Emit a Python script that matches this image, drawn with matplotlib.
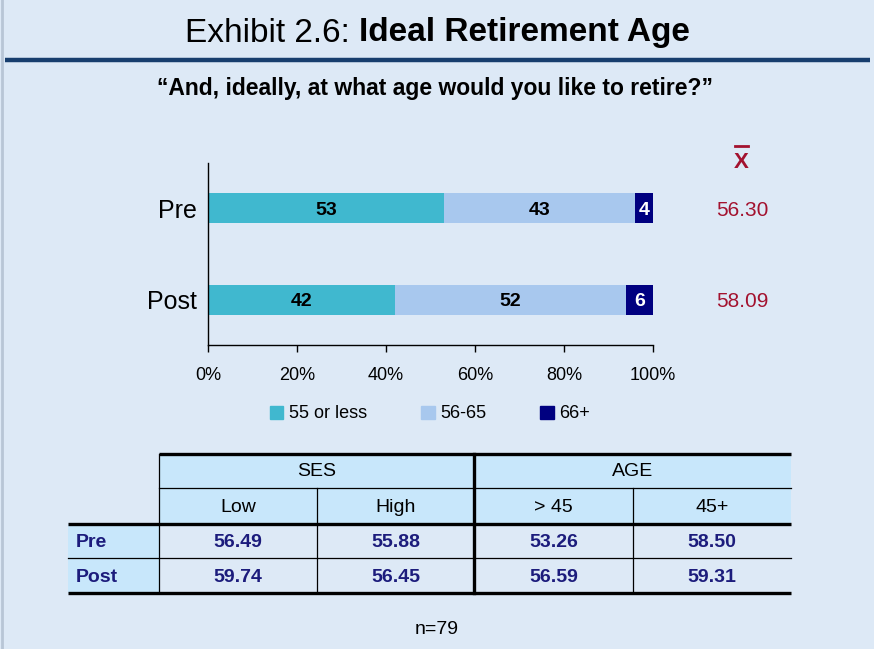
import matplotlib.pyplot as plt
from matplotlib.patches import Rectangle

groups = ['Pre', 'Post']
cats = ['55 or less', '56-65', '66+']
pct_55_less = [53, 42]
pct_56_65 = [43, 52]
pct_66_plus = [4, 6]
means = ['56.30', '58.09']

tbl_groups = ['SES', 'AGE']
tbl_cols = ['Low', 'High', '> 45', '45+']
tbl_rows = ['Pre', 'Post']
tbl_vals = [[56.49, 55.88, 53.26, 58.50],
            [59.74, 56.45, 56.59, 59.31]]
n_total = 79

FONT = ['Liberation Sans Narrow', 'Liberation Sans', 'DejaVu Sans']
BG = '#dde9f6'
colors = ['#40b8cf', '#a8c8ee', '#000080']
W, H = 874, 649

fig = plt.figure(figsize=(W / 100, H / 100), dpi=100, facecolor=BG)

# overlay axes in pixel coordinates for title, table, notes
ov = fig.add_axes([0, 0, 1, 1])
ov.set_xlim(0, W)
ov.set_ylim(H, 0)
ov.axis('off')
ov.set_facecolor('none')

ov.axvline(2, color='#b8c6d6', lw=2)

# title in two weights, centred as a whole
r = fig.canvas.get_renderer()
a = ov.text(0, 33, 'Exhibit 2.6: ', ha='left', va='center', fontsize=24, family=FONT)
b = ov.text(0, 33, 'Ideal Retirement Age', ha='left', va='center', fontsize=24,
            family=FONT, weight='bold')
wa = a.get_window_extent(r).width
wb = b.get_window_extent(r).width
x0 = 437 - (wa + wb) / 2
a.set_x(x0)
b.set_x(x0 + wa)

ov.plot([5, 870], [59.5, 59.5], color='#173e6e', lw=3.2, solid_capstyle='butt')
ov.text(435, 88, '\u201cAnd, ideally, at what age would you like to retire?\u201d',
        ha='center', va='center', fontsize=16.5, weight='bold', family=FONT)

# main stacked bar chart
ax = fig.add_axes([208 / W, 1 - 345 / H, 445 / W, 182 / H])
ax.set_facecolor('none')
ys = [1, 0]
left = [0, 0]
for vals, c in zip([pct_55_less, pct_56_65, pct_66_plus], colors):
    ax.barh(ys, vals, left=left, height=0.33, color=c)
    for y, v, l in zip(ys, vals, left):
        tc = 'white' if c == colors[2] else 'black'
        ax.text(l + v / 2, y, str(v), ha='center', va='center_baseline', fontsize=14,
                weight='bold', color=tc, family=FONT)
    left = [l + v for l, v in zip(left, vals)]

ax.set_xlim(0, 100)
ax.set_ylim(-0.49, 1.49)
ax.set_yticks(ys)
ax.set_yticklabels(groups, fontsize=18, family=FONT)
ax.tick_params(axis='y', length=0, pad=8)
ax.set_xticks(range(0, 101, 20))
ax.set_xticklabels([f'{v}%' for v in range(0, 101, 20)], fontsize=13, family=FONT)
ax.tick_params(axis='x', length=5, width=1, pad=11)
for s in ['top', 'right']:
    ax.spines[s].set_visible(False)
for s in ['left', 'bottom']:
    ax.spines[s].set_linewidth(1)

# mean column
for y, m in zip(ys, means):
    ax.text(120, y, m, ha='center', va='center_baseline', fontsize=15,
            color='#a3122f', family=FONT, clip_on=False)
ov.text(741, 162, 'X', ha='center', va='center', fontsize=16, color='#a3122f',
        weight='bold', family=FONT)
ov.plot([735, 748], [146, 146], color='#a3122f', lw=2)

handles = [Rectangle((0, 0), 1, 1, color=c) for c in colors]
fig.legend(handles, cats, loc='center', bbox_to_anchor=(430 / W, 1 - 414 / H),
           ncol=3, frameon=False, handlelength=0.75, handleheight=0.75,
           handletextpad=0.3, columnspacing=3.0,
           prop={'family': FONT, 'size': 13})

# table
xs = [68, 159, 317, 474, 633, 791]
yt = [454, 488, 524, 558, 593]
hdr_fill = '#c8e7fb'
ov.add_patch(Rectangle((xs[1], yt[0]), xs[5] - xs[1], yt[2] - yt[0],
                       facecolor=hdr_fill, edgecolor='none'))
ov.add_patch(Rectangle((xs[0], yt[2]), xs[1] - xs[0], yt[4] - yt[2],
                       facecolor=hdr_fill, edgecolor='none'))
ov.plot([xs[1], xs[5]], [yt[0], yt[0]], color='black', lw=2.4, solid_capstyle='butt')
ov.plot([xs[1], xs[5]], [yt[1], yt[1]], color='black', lw=0.9)
ov.plot([xs[0], xs[5]], [yt[2], yt[2]], color='black', lw=2.4, solid_capstyle='butt')
ov.plot([xs[0], xs[5]], [yt[3], yt[3]], color='black', lw=0.9)
ov.plot([xs[0], xs[5]], [yt[4], yt[4]], color='black', lw=2.4, solid_capstyle='butt')
ov.plot([xs[1], xs[1]], [yt[0], yt[4]], color='black', lw=0.9)
ov.plot([xs[3], xs[3]], [yt[0], yt[4]], color='black', lw=2.4)
for x in [xs[2], xs[4]]:
    ov.plot([x, x], [yt[1], yt[4]], color='black', lw=0.9)

for i, g in enumerate(tbl_groups):
    ov.text((xs[1 + 2 * i] + xs[3 + 2 * i]) / 2, (yt[0] + yt[1]) / 2 + 1, g,
            ha='center', va='center', fontsize=14, family=FONT)
for j, c in enumerate(tbl_cols):
    ov.text((xs[1 + j] + xs[2 + j]) / 2, (yt[1] + yt[2]) / 2 + 1, c,
            ha='center', va='center', fontsize=14, family=FONT)
navy = '#1c1c7c'
for i, (rl, row) in enumerate(zip(tbl_rows, tbl_vals)):
    yc = (yt[2 + i] + yt[3 + i]) / 2 + 1.5
    ov.text(xs[0] + 8, yc, rl, ha='left', va='center', fontsize=14,
            family=FONT, color=navy, weight='bold')
    for j, v in enumerate(row):
        ov.text((xs[1 + j] + xs[2 + j]) / 2, yc, f'{v:.2f}', ha='center',
                va='center', fontsize=14, family=FONT, color=navy, weight='bold')

ov.text(437, 630, f'n={n_total}', ha='center', va='center', fontsize=14,
        family=FONT)

fig.savefig('out.png', dpi=100, facecolor=BG)
